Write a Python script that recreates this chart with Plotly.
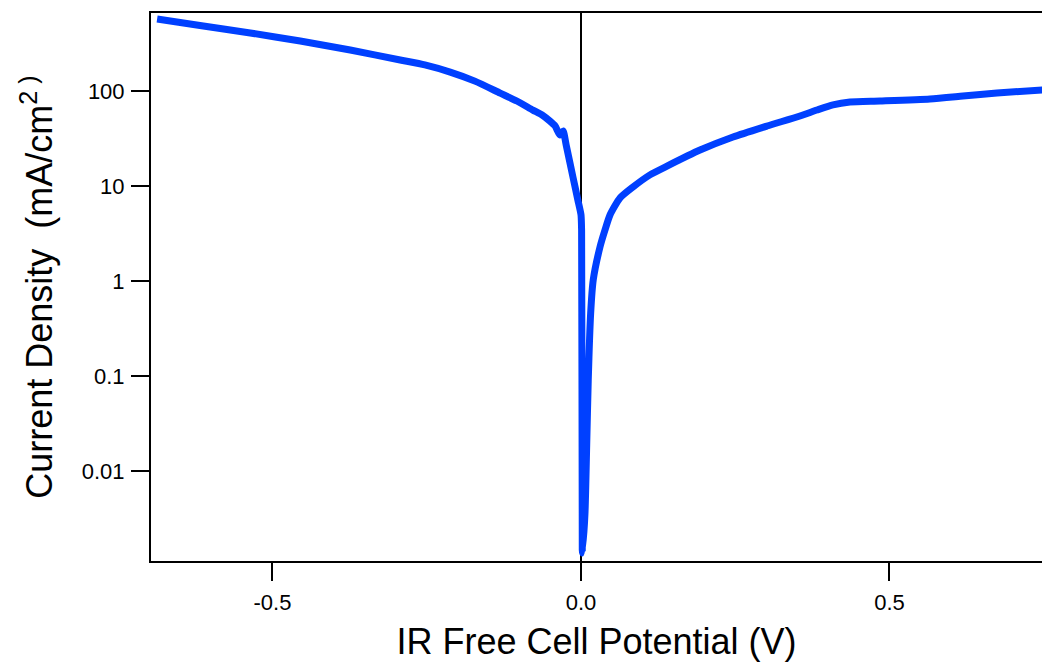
import plotly.graph_objects as go

# IR-free cell potential (V) and current density (mA/cm^2)
potential = [-0.687, -0.6175, -0.536, -0.455, -0.374, -0.293, -0.253, -0.212, -0.172,
             -0.131, -0.104, -0.078, -0.063, -0.050, -0.042, -0.034, -0.029, -0.024,
             -0.013, -0.005, 0.0, 0.001, 0.0021,
             0.0024, 0.0065, 0.0092, 0.0118, 0.0157, 0.0199, 0.0308, 0.0389, 0.047,
             0.0632, 0.0843, 0.1118, 0.1394, 0.1929, 0.2464, 0.3015, 0.3549, 0.3825,
             0.4084, 0.436, 0.4846, 0.5656, 0.6191, 0.6742, 0.750]
current_density = [572, 489, 408, 336, 270, 212, 188, 158, 127,
                   95, 78.5, 63, 55.9, 48, 42.9, 34.4, 37.9, 27,
                   12.4, 7.1, 5.0, 3.4, 0.00148,
                   0.00137, 0.00361, 0.0179, 0.0908, 0.46, 1.03, 2.28, 3.44, 4.95,
                   7.48, 9.76, 13.1, 16.2, 23.9, 32.8, 42.8, 54.6, 63.1,
                   71.5, 76.6, 78.5, 82.4, 88.5, 95.3, 103]

x_ticks = [-0.5, 0.0, 0.5]
x_ticktext = ["-0.5", "0.0", "0.5"]
y_ticks = [0.01, 0.1, 1, 10, 100]
y_ticktext = ["0.01", "0.1", "1", "10", "100"]

FONT = "Liberation Sans, Arial, sans-serif"

fig = go.Figure()
fig.add_trace(go.Scatter(
    x=potential, y=current_density, mode="lines",
    line=dict(color="rgb(0,64,255)", width=7, shape="spline", smoothing=0.6),
    showlegend=False,
))

fig.update_layout(
    width=1042, height=666,
    margin=dict(l=151, r=0, t=13, b=105),
    paper_bgcolor="white", plot_bgcolor="white",
    font=dict(family=FONT, color="black"),
    xaxis=dict(
        range=[-0.6969, 0.7472],
        tickvals=x_ticks, ticktext=x_ticktext,
        ticks="outside", ticklen=18, tickwidth=2, tickcolor="black",
        showline=True, linewidth=2, linecolor="black", mirror=True,
        showgrid=False,
        zeroline=True, zerolinecolor="black", zerolinewidth=1.5,
        tickfont=dict(size=22, family=FONT, color="black"),
        ticklabelstandoff=3,
        title=dict(text="IR Free Cell Potential (V)",
                   font=dict(size=36, family=FONT, color="black"), standoff=14),
    ),
    yaxis=dict(
        type="log",
        range=[-2.947, 2.821],
        tickvals=y_ticks, ticktext=y_ticktext,
        ticks="outside", ticklen=18, tickwidth=2, tickcolor="black",
        showline=True, linewidth=2, linecolor="black", mirror=False,
        showgrid=False, zeroline=False,
        tickfont=dict(size=22, family=FONT, color="black"),
        ticklabelstandoff=2,
        title=dict(text="Current Density  (mA/cm<sup>2</sup><sup> )</sup>",
                   font=dict(size=36, family=FONT, color="black"), standoff=18),
    ),
)

fig.write_html("out.html")
